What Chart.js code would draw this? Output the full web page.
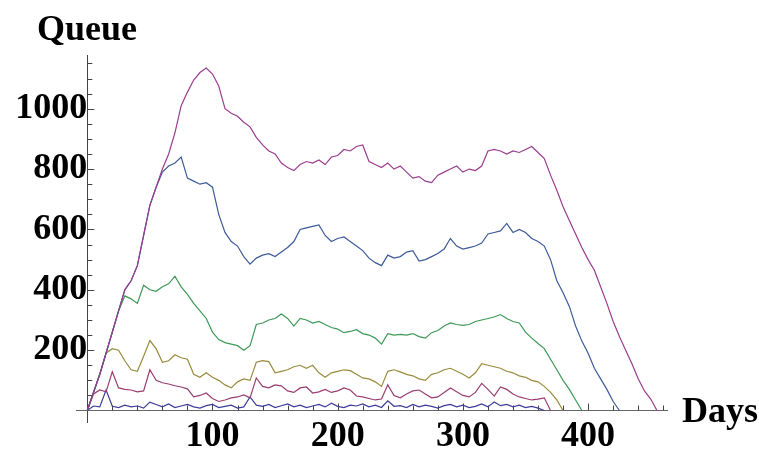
<!DOCTYPE html>
<html>
<head>
<meta charset="utf-8">
<script src="https://cdn.jsdelivr.net/npm/chart.js@4"></script>
<style>
  html, body { margin: 0; padding: 0; background: #fff; }
  #wrap { width: 759px; height: 450px; }
</style>
</head>
<body>
<div id="wrap"><canvas id="queueChart" width="759" height="450"></canvas></div>
<script>
// one sample every 5 days
const dayStep = 5;

const xTicks = [100, 200, 300, 400];
const yTicks = [200, 400, 600, 800, 1000];

const purple = [0,60,120,190,260,330,400,430,480,580,
  680,740,800,850,920,1010,1055,1095,1120,1135,
  1115,1075,1000,985,975,955,940,905,880,860,
  850,820,805,795,815,825,820,830,815,840,
  845,865,860,875,880,825,815,805,820,800,
  810,790,770,775,760,755,780,790,800,810,
  790,800,795,810,860,865,860,850,860,855,
  865,875,855,835,780,730,675,630,585,540,
  500,465,410,355,295,245,200,155,105,65,
  38,0];
const blue = [0,60,120,190,260,330,400,430,480,580,
  680,740,790,810,820,840,770,760,750,755,
  740,650,590,560,545,510,485,505,515,520,
  510,525,540,560,600,605,610,615,580,560,
  570,575,560,545,530,505,490,480,515,505,
  510,525,530,495,500,510,520,535,570,545,
  535,540,545,555,585,590,595,620,590,600,
  590,570,560,545,500,430,390,345,280,230,
  190,140,105,70,30,0];
const green = [0,60,120,190,260,330,380,370,355,415,
  400,395,410,420,445,410,385,355,330,305,
  260,235,225,220,215,200,215,285,290,300,
  305,320,305,280,305,300,290,295,285,275,
  270,258,262,268,255,250,240,220,255,250,
  252,250,255,245,240,258,265,280,290,285,
  282,285,295,300,305,310,318,305,295,290,
  260,240,222,205,170,135,100,70,35,0];
const gold = [0,60,120,190,205,200,165,135,130,180,
  232,205,160,165,185,175,170,120,110,125,
  110,100,85,75,95,105,100,160,165,162,
  125,130,135,145,150,140,150,125,110,125,
  130,135,132,120,108,105,95,80,130,135,
  128,120,115,105,100,120,125,135,140,130,
  120,108,125,155,150,145,140,130,125,115,
  110,100,95,80,60,35,0];
const crimson = [0,55,68,62,128,75,70,68,62,65,
  135,100,92,88,82,78,72,45,50,58,
  40,30,35,42,45,52,42,108,80,75,
  85,82,65,60,75,78,58,62,70,60,
  65,75,68,48,45,40,35,38,85,50,
  42,55,65,68,55,42,45,60,75,62,
  50,45,60,90,70,48,78,70,55,45,
  40,35,38,42,0];
const navy = [0,15,12,68,14,10,18,12,15,8,
  28,20,12,22,10,15,20,12,8,16,
  20,10,14,18,8,12,45,18,14,20,
  10,16,22,12,18,10,15,20,12,24,
  14,10,18,15,22,12,18,10,32,14,
  16,10,20,12,18,14,8,16,20,12,
  18,10,14,22,12,28,16,20,12,18,
  10,14,8,0];

function pts(arr) {
  return arr.map((v, i) => ({ x: i * dayStep, y: v }));
}

function series(arr, color) {
  return {
    data: pts(arr),
    borderColor: color,
    borderWidth: 1.2,
    pointRadius: 0,
    tension: 0,
    fill: false,
  };
}

const serif = '"Liberation Serif", "Times New Roman", serif';

// minor / major tick marks drawn inward like the original
const decor = {
  id: 'decor',
  beforeDatasetsDraw(chart) {
    const { ctx, scales: { x, y } } = chart;
    const x0 = x.getPixelForValue(0);
    const y0 = y.getPixelForValue(0);
    ctx.save();
    ctx.strokeStyle = '#444';
    ctx.lineWidth = 1;
    ctx.beginPath();
    for (let d = 20; d <= 460; d += 20) {
      const px = Math.round(x.getPixelForValue(d)) + 0.5;
      const len = d % 100 === 0 ? 7 : 5;
      ctx.moveTo(px, y0);
      ctx.lineTo(px, y0 - len);
    }
    for (let q = 50; q <= 1150; q += 50) {
      const py = Math.round(y.getPixelForValue(q)) + 0.5;
      const len = q % 200 === 0 ? 7 : 5;
      ctx.moveTo(x0, py);
      ctx.lineTo(x0 + len, py);
    }
    ctx.stroke();
    ctx.restore();
  },
  afterDraw(chart) {
    const ctx = chart.ctx;
    ctx.save();
    ctx.fillStyle = '#000';
    ctx.font = 'bold 36px ' + serif;
    ctx.textAlign = 'left';
    ctx.textBaseline = 'alphabetic';
    ctx.fillText('Queue', 37, 40);
    ctx.fillText('Days', 682, 422);
    ctx.restore();
  }
};

new Chart(document.getElementById('queueChart'), {
  type: 'line',
  data: {
    datasets: [
      series(purple, '#993d90'),
      series(blue, '#3d5a99'),
      series(green, '#3d9956'),
      series(gold, '#998b3d'),
      series(crimson, '#993d71'),
      series(navy, '#3d3d99'),
    ],
  },
  options: {
    responsive: false,
    animation: false,
    devicePixelRatio: 1,
    layout: { padding: { left: 76, right: 92, top: 55, bottom: 28 } },
    plugins: {
      legend: { display: false },
      tooltip: { enabled: false },
    },
    scales: {
      x: {
        type: 'linear',
        min: -9,
        max: 463,
        position: { y: 0 },
        afterBuildTicks: (s) => { s.ticks = xTicks.map(v => ({ value: v })); },
        grid: { drawOnChartArea: false, drawTicks: false },
        border: { display: true, color: '#666', width: 1 },
        ticks: {
          padding: 5,
          color: '#000',
          maxRotation: 0,
          callback: (v) => String(v),
          font: { family: serif, size: 36, weight: 'bold' },
        },
      },
      y: {
        type: 'linear',
        min: -38,
        max: 1178,
        position: { x: 0 },
        afterBuildTicks: (s) => { s.ticks = yTicks.map(v => ({ value: v })); },
        grid: { drawOnChartArea: false, drawTicks: false },
        border: { display: true, color: '#444', width: 1 },
        ticks: {
          padding: 6,
          color: '#000',
          callback: (v) => String(v),
          font: { family: serif, size: 36, weight: 'bold' },
        },
      },
    },
  },
  plugins: [decor],
});
</script>
</body>
</html>
